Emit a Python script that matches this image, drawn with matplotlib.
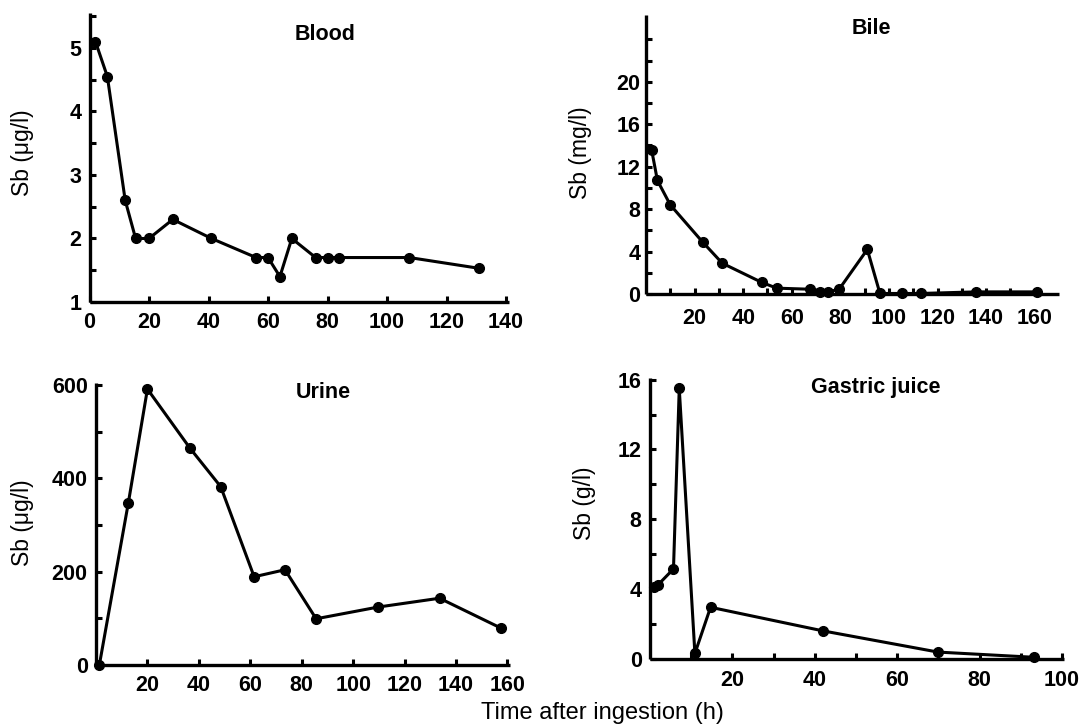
import matplotlib
matplotlib.use("Agg")
import matplotlib.pyplot as plt

W, H = 1084, 727

# ---- data ----
blood_t = [2, 6, 12, 15.5, 20, 28, 41, 56, 60, 64, 68, 76, 80, 84, 107.5, 131]
blood_sb = [5.1, 4.55, 2.6, 2.0, 2.0, 2.3, 2.0, 1.7, 1.7, 1.4, 2.0, 1.7, 1.7, 1.7, 1.7, 1.53]

bile_t = [2.3, 4.7, 10, 23.3, 31.4, 47.6, 53.8, 67.5, 71.6, 75, 79.5, 91.1, 96.3, 105.2, 113, 136, 160.8]
bile_sb = [13.6, 10.7, 8.4, 4.9, 2.9, 1.1, 0.55, 0.45, 0.2, 0.2, 0.45, 4.2, 0.05, 0.05, 0.05, 0.2, 0.2]

urine_t = [1.3, 12.6, 20, 36.6, 48.5, 61.5, 73.5, 85.6, 109.6, 133.6, 157.5]
urine_sb = [0, 348, 591, 464, 382, 189, 204, 99, 124, 143, 79]

gastric_t = [1, 2, 5.7, 7.1, 10.9, 14.7, 41.9, 69.9, 93.3]
gastric_sb = [4.1, 4.25, 5.15, 15.5, 0.3, 2.95, 1.6, 0.38, 0.08]

# ticks and labels
blood_xticks = [0, 20, 40, 60, 80, 100, 120, 140]
blood_xlabels = ["0", "20", "40", "60", "80", "100", "120", "140"]
blood_yticks = [1, 1.5, 2, 2.5, 3, 3.5, 4, 4.5, 5, 5.5]
blood_ylabels = ["1", "", "2", "", "3", "", "4", "", "5", ""]

bile_xticks = [10, 20, 30, 40, 50, 60, 70, 80, 90, 100, 110, 120, 130, 140, 150, 160]
bile_xlabels = ["", "20", "", "40", "", "60", "", "80", "", "100", "", "120", "", "140", "", "160"]
bile_yticks = [0, 2, 4, 6, 8, 10, 12, 14, 16, 18, 20, 22, 24]
bile_ylabels = ["0", "", "4", "", "8", "", "12", "", "16", "", "20", "", ""]

urine_xticks = [20, 40, 60, 80, 100, 120, 140, 160]
urine_xlabels = ["20", "40", "60", "80", "100", "120", "140", "160"]
urine_yticks = [0, 100, 200, 300, 400, 500, 600]
urine_ylabels = ["0", "", "200", "", "400", "", "600"]

gastric_xticks = [10, 20, 30, 40, 50, 60, 70, 80, 90, 100]
gastric_xlabels = ["", "20", "", "40", "", "60", "", "80", "", "100"]
gastric_yticks = [0, 2, 4, 6, 8, 10, 12, 14, 16]
gastric_ylabels = ["0", "", "4", "", "8", "", "12", "", "16"]

plt.rcParams['font.family'] = ['Liberation Sans', 'DejaVu Sans']

fig = plt.figure(figsize=(W / 100, H / 100), dpi=100)


def make_ax(x0, x1, y0, y1):
    # pixel coords: x0 left, x1 right, y0 bottom, y1 top
    return fig.add_axes([x0 / W, 1 - y0 / H, (x1 - x0) / W, (y0 - y1) / H])


def style(ax, xpad, ypad):
    for s in ("top", "right"):
        ax.spines[s].set_visible(False)
    for s in ("left", "bottom"):
        ax.spines[s].set_linewidth(2.4)
        ax.spines[s].set_capstyle("butt")
    ax.tick_params(direction="in", length=4.5, width=2.2, labelsize=15.5)
    ax.tick_params(axis="x", pad=xpad)
    ax.tick_params(axis="y", pad=ypad)
    for lab in ax.get_xticklabels() + ax.get_yticklabels():
        lab.set_fontweight("bold")
    ax.patch.set_alpha(0)


def draw(ax, t, v):
    ax.plot(t, v, color="black", lw=2.2, marker="o", ms=7, clip_on=False, zorder=5)


# Blood
ax1 = make_ax(89.5, 509, 302, 13)
draw(ax1, blood_t, blood_sb)
ax1.set_xlim(0, 141)
ax1.set_ylim(1, 5.55)
ax1.set_xticks(blood_xticks, blood_xlabels)
ax1.set_yticks(blood_yticks, blood_ylabels)
style(ax1, 7.5, 6)

# Bile
ax2 = make_ax(646, 1059, 294, 15)
draw(ax2, bile_t, bile_sb)
ax2.set_xlim(0, 170)
ax2.set_ylim(0, 26.3)
ax2.set_xticks(bile_xticks, bile_xlabels)
ax2.set_yticks(bile_yticks, bile_ylabels)
style(ax2, 10, 4)

# Urine
ax3 = make_ax(96, 510, 665, 383)
draw(ax3, urine_t, urine_sb)
ax3.set_xlim(0, 161)
ax3.set_ylim(0, 604)
ax3.set_xticks(urine_xticks, urine_xlabels)
ax3.set_yticks(urine_yticks, urine_ylabels)
style(ax3, 7.5, 6)

# Gastric juice
ax4 = make_ax(650, 1064, 658.7, 378)
draw(ax4, gastric_t, gastric_sb)
ax4.set_xlim(0, 100.5)
ax4.set_ylim(0, 16.1)
ax4.set_xticks(gastric_xticks, gastric_xlabels)
ax4.set_yticks(gastric_yticks, gastric_ylabels)
style(ax4, 8, 6)


def ftext(px, py, s, **kw):
    fig.text(px / W, 1 - py / H, s, ha="center", va="center", **kw)


ftext(325, 35, "Blood", fontsize=15.5, fontweight="bold")
ftext(871, 29, "Bile", fontsize=15.5, fontweight="bold")
ftext(323, 393, "Urine", fontsize=15.5, fontweight="bold")
ftext(876, 387, "Gastric juice", fontsize=15.5, fontweight="bold")

ftext(22, 153, "Sb (μg/l)", fontsize=16.5, rotation=90)
ftext(580, 153, "Sb (mg/l)", fontsize=16.5, rotation=90)
ftext(22, 523, "Sb (μg/l)", fontsize=16.5, rotation=90)
ftext(585, 503, "Sb (g/l)", fontsize=16.5, rotation=90)

ftext(602, 713, "Time after ingestion (h)", fontsize=17)

fig.savefig("out.png", dpi=100)
